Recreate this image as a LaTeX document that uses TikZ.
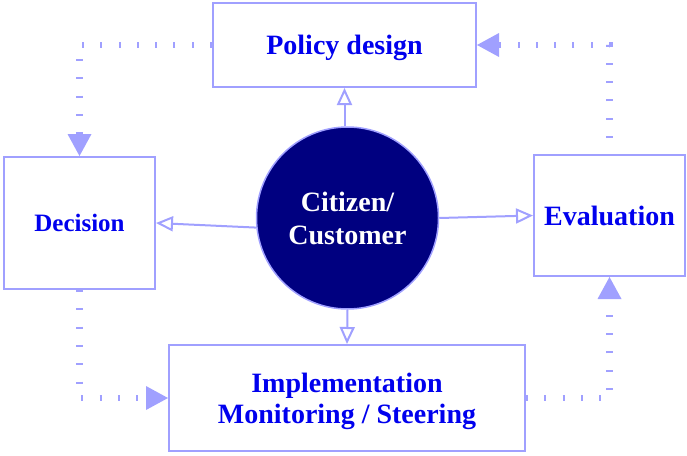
\documentclass[tikz,border=0pt]{standalone}
\usepackage{fontspec}
\setmainfont{Liberation Serif}
\usetikzlibrary{arrows.meta}
\definecolor{lineblue}{RGB}{160,160,255}
\definecolor{textblue}{RGB}{0,0,238}
\definecolor{navy}{RGB}{0,0,128}
\tikzset{
  boxnode/.style={draw=lineblue, line width=2pt, fill=white, inner sep=0pt, align=center,
    text=textblue, text depth=0pt, font=\bfseries\fontsize{28}{31}\selectfont},
  hubnode/.style={circle, draw=lineblue, line width=1.5pt, fill=navy, inner sep=0pt,
    minimum size=182pt, align=center, text=white, text depth=0pt, font=\bfseries\fontsize{28}{33}\selectfont},
  openarrow/.style={draw=lineblue, line width=2pt,
    -{Triangle[open, length=17pt, width=15pt, line width=2pt]}},
  dotflow/.style={draw=lineblue, line width=6.5pt, line cap=butt,
    dash pattern=on 2pt off 16.3pt,
    -{Triangle[length=22pt, width=24pt, line width=0pt, fill=lineblue]}},
  latedots/.style={dash pattern=on 2pt off 16.3pt, dash phase=2.3pt}
}
\begin{document}
\begin{tikzpicture}[x=1pt, y=-1pt]
\useasboundingbox (0,0) rectangle (687,455);
\node[boxnode, minimum width=263pt, minimum height=84pt] (pol) at (344.5,45) {Policy design};
\node[boxnode, minimum width=151pt, minimum height=132pt, font=\bfseries\fontsize{25}{30}\selectfont] (dec) at (79.5,223) {Decision};
\node[boxnode, minimum width=151pt, minimum height=121pt] (eva) at (609.5,215.5) {Evaluation};
\node[boxnode, minimum width=356pt, minimum height=106pt] (imp) at (347,398) {Implementation\\Monitoring / Steering};
\node[hubnode] (hub) at (347.5,218) {Citizen/\\Customer};

\draw[openarrow] (pol.south |- hub.north) -- (pol.south);
\draw[openarrow] (hub.186) -- (dec.east);
\draw[openarrow] (hub.east) -- (eva.west);
\draw[openarrow] (hub.south) -- (imp.north);

\draw[dotflow] (pol.west) -| (dec.north);
\draw[dotflow, latedots] (eva.north) |- (pol.east);
\draw[dotflow] (dec.south) |- (imp.west);
\draw[dotflow] (imp.east) -| (eva.south);
\end{tikzpicture}
\end{document}
